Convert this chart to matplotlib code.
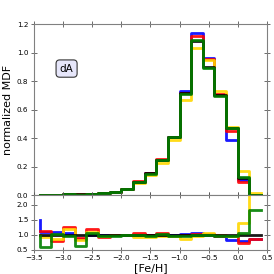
import numpy as np
import matplotlib
matplotlib.use('Agg')
import matplotlib.pyplot as plt

# bin edges in [Fe/H]
edges = np.round(np.arange(-3.4, 0.41, 0.2), 2)

# normalized MDF per bin (19 bins)
mdf_black = [0.003, 0.004, 0.005, 0.006, 0.008, 0.013, 0.025, 0.040, 0.092, 0.152,
             0.245, 0.410, 0.720, 1.080, 0.900, 0.700, 0.470, 0.120, 0.002]
mdf_blue = [0.003, 0.004, 0.005, 0.005, 0.008, 0.013, 0.025, 0.040, 0.093, 0.152,
            0.245, 0.410, 0.730, 1.135, 0.963, 0.700, 0.386, 0.105, 0.002]
mdf_red = [0.003, 0.003, 0.006, 0.005, 0.010, 0.012, 0.025, 0.042, 0.098, 0.155,
           0.250, 0.410, 0.720, 1.115, 0.955, 0.710, 0.450, 0.090, 0.002]
mdf_yellow = [0.003, 0.003, 0.006, 0.005, 0.009, 0.012, 0.025, 0.040, 0.085, 0.140,
              0.225, 0.390, 0.670, 1.035, 0.947, 0.730, 0.480, 0.168, 0.016]
mdf_green = [0.002, 0.004, 0.005, 0.004, 0.008, 0.012, 0.025, 0.040, 0.092, 0.150,
             0.245, 0.405, 0.710, 1.090, 0.893, 0.697, 0.468, 0.124, 0.002]

# ratio to reference (first value is the starting point at the left edge)
rat_black = [1.0] * 20
rat_blue = [1.50, 1.10, 1.09, 1.06, 0.85, 1.00, 1.00, 1.00, 1.00, 0.99, 1.00,
            1.00, 1.00, 1.02, 1.06, 1.04, 0.97, 0.82, 0.80, 0.86]
rat_red = [1.13, 1.13, 0.80, 1.28, 0.90, 1.20, 0.94, 1.00, 1.00, 1.06, 1.00,
           1.08, 0.98, 0.99, 1.02, 1.03, 0.98, 0.97, 0.73, 0.86]
rat_yellow = [1.00, 0.93, 0.87, 1.19, 0.83, 1.10, 0.96, 1.00, 1.00, 0.94, 0.94,
              0.97, 0.96, 0.88, 0.96, 1.05, 1.00, 0.97, 1.41, 8.00]
rat_green = [0.98, 0.58, 1.02, 0.97, 0.62, 1.08, 0.95, 0.96, 1.00, 1.00, 0.98,
             1.02, 0.97, 0.95, 1.00, 1.00, 0.96, 0.97, 1.08, 1.83]

colors = ['blue', 'red', '#ffd700', 'black', 'green']
mdfs = [mdf_blue, mdf_red, mdf_yellow, mdf_black, mdf_green]
rats = [rat_blue, rat_red, rat_yellow, rat_black, rat_green]

plt.rcParams['font.size'] = 5.2
plt.rcParams['xtick.direction'] = 'inout'
plt.rcParams['ytick.direction'] = 'inout'

fig = plt.figure(figsize=(2.74, 2.74), dpi=100)
ax1 = fig.add_axes([0.124, 0.288, 0.850, 0.624])
ax2 = fig.add_axes([0.124, 0.088, 0.850, 0.200])

for c, m, r in zip(colors, mdfs, rats):
    ax1.step(edges, [0.0] + m, where='pre', color=c, lw=2, alpha=0.9)
    ax2.step(edges, r, where='pre', color=c, lw=2, alpha=0.9)

ax1.set_xlim(-3.5, 0.5)
ax1.set_ylim(0, 1.2)
ax1.set_yticks(np.arange(0, 1.21, 0.2))
ax1.set_xticks(np.arange(-3.5, 0.51, 0.5))
ax1.set_xticklabels([])
ax1.set_ylabel('normalized MDF', fontsize=8, labelpad=3)
ax1.text(0.14, 0.74, 'dA', transform=ax1.transAxes, fontsize=7.5, ha='center', va='center',
         bbox=dict(boxstyle='round,pad=0.35', fc='#e6e6fa', ec='#333333', lw=0.8))

ax2.set_xlim(-3.5, 0.5)
ax2.set_ylim(0.5, 2.33)
ax2.set_yticks([0.5, 1.0, 1.5, 2.0])
ax2.set_xticks(np.arange(-3.5, 0.51, 0.5))
ax2.set_xlabel('[Fe/H]', fontsize=8, labelpad=1)

for ax in (ax1, ax2):
    ax.tick_params(top=True, right=True, length=5, width=0.6, color='#555555', pad=1.5)
    for s in ax.spines.values():
        s.set_color('#808080')
        s.set_linewidth(0.8)

plt.savefig('out.png', dpi=100)
